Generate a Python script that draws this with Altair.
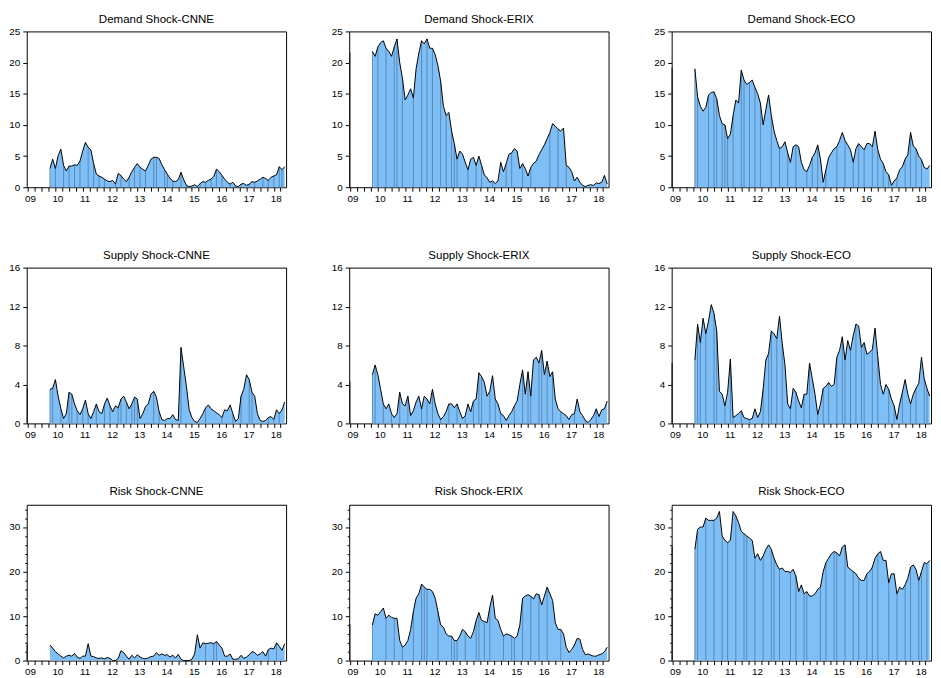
import altair as alt
import pandas as pd

# ---------------- data (grid 2009.8 .. 2018.4 step 0.1) ----------------
T0 = 2009.8
STEP = 0.1

demand_cnne = [3.0, 4.5,
    3.0, 5.1, 6.1, 3.5, 2.6, 3.4, 3.4, 3.6, 3.5, 4.2,
    5.8, 7.2, 6.4, 6.0, 3.8, 2.1, 1.8, 1.6, 1.3, 1.0,
    0.9, 1.1, 0.5, 2.2, 1.9, 1.3, 0.9, 1.6, 2.5, 3.2,
    3.8, 3.2, 2.9, 2.6, 3.5, 4.5, 4.8, 4.8, 4.6, 3.6,
    2.8, 2.1, 1.4, 1.0, 0.9, 1.2, 2.4, 1.2, 0.3, 0.1,
    0.2, 0.4, 0.1, 0.6, 0.9, 0.8, 1.1, 1.3, 1.7, 2.9,
    2.5, 1.9, 1.3, 0.8, 0.5, 0.8, 0.2, 0.1, 0.5, 0.6,
    0.3, 0.5, 0.9, 0.8, 1.0, 1.3, 1.6, 1.4, 1.1, 1.6,
    1.8, 2.0, 3.3, 2.8, 3.3]
demand_erix = [21.8, 21.0,
    22.5, 23.2, 23.5, 22.3, 21.8, 21.0, 22.5, 23.8, 20.0, 17.5,
    14.0, 14.8, 15.8, 14.3, 19.0, 21.5, 23.5, 23.0, 23.8, 22.3,
    22.3, 21.3, 19.5, 17.0, 13.0, 11.5, 12.0, 9.0, 7.0, 4.5,
    5.8, 5.3, 4.0, 2.8, 4.5, 4.8, 3.5, 5.0, 3.5, 2.0,
    1.5, 0.8, 1.0, 0.6, 1.0, 4.0, 2.5, 3.8, 5.3, 5.5,
    6.2, 5.8, 3.0, 3.8, 3.0, 1.8, 3.2, 3.8, 4.2, 5.2,
    6.0, 6.8, 7.8, 8.8, 10.2, 9.8, 9.3, 9.0, 9.5, 3.5,
    3.2, 2.5, 1.0, 1.6, 0.8, 0.3, 0.1, 0.3, 0.4, 0.3,
    0.7, 0.6, 0.8, 1.9, 0.5]
demand_eco = [19.0, 14.5,
    13.0, 12.2, 12.8, 14.8, 15.2, 15.3, 14.2, 11.5, 10.2, 10.0,
    7.8, 8.5, 11.5, 14.0, 13.5, 18.8, 17.2, 16.5, 16.8, 17.2,
    16.0, 15.0, 13.5, 10.0, 12.5, 14.8, 11.5, 9.0, 7.5, 6.2,
    6.5, 7.3, 5.5, 4.0, 6.5, 6.8, 6.5, 4.0, 2.8, 2.5,
    3.5, 4.8, 5.5, 6.8, 4.5, 0.8, 2.8, 4.8, 5.5, 6.2,
    6.5, 7.5, 8.8, 7.5, 6.8, 6.0, 4.0, 6.2, 7.0, 6.5,
    6.0, 7.0, 7.0, 6.5, 9.0, 6.0, 4.5, 3.8, 2.5, 2.0,
    0.3, 1.0, 1.5, 2.8, 3.3, 4.5, 5.2, 8.8, 6.6, 6.2,
    5.0, 4.4, 3.2, 2.9, 3.5]
supply_cnne = [3.5, 3.6,
    4.5, 2.8, 1.5, 0.5, 1.0, 3.2, 3.0, 2.0, 1.3, 0.9,
    1.5, 2.4, 1.0, 0.5, 1.2, 2.0, 1.2, 1.0, 2.0, 2.6,
    1.8, 1.2, 1.8, 1.6, 2.5, 2.8, 2.2, 1.5, 2.0, 2.7,
    2.5, 0.5, 1.0, 1.7, 2.0, 3.0, 3.3, 2.7, 1.2, 0.4,
    0.3, 0.5, 0.5, 0.9, 0.4, 0.3, 7.8, 5.8, 3.8, 1.4,
    0.6, 0.2, 0.1, 0.5, 1.0, 1.6, 1.9, 1.5, 1.3, 1.1,
    0.9, 0.6, 1.4, 1.3, 1.9, 1.0, 0.2, 0.5, 2.8, 3.5,
    5.0, 4.5, 3.2, 2.8, 1.0, 0.3, 0.2, 0.3, 0.6, 0.7,
    0.4, 1.4, 1.0, 1.4, 2.2]
supply_erix = [5.0, 6.0,
    5.0, 3.5, 2.0, 1.5, 2.0, 1.0, 0.6, 1.0, 3.2, 2.0,
    1.8, 2.8, 0.8, 1.3, 2.2, 2.8, 1.5, 2.8, 2.5, 2.0,
    3.5, 2.0, 1.0, 0.4, 0.7, 1.2, 2.0, 2.0, 1.6, 2.0,
    1.2, 0.5, 0.8, 2.0, 1.2, 2.3, 2.5, 5.2, 4.8, 4.2,
    2.8, 3.3, 4.9, 2.5, 2.0, 1.0, 0.8, 0.3, 0.8, 1.2,
    1.8, 2.3, 4.0, 5.5, 3.0, 5.3, 2.8, 6.5, 6.8, 6.2,
    7.5, 5.0, 6.4, 4.8, 5.3, 2.5, 1.5, 1.2, 1.0, 0.8,
    0.4, 0.9, 1.0, 2.5, 1.2, 0.8, 0.3, 0.1, 0.4, 0.8,
    1.5, 0.7, 1.4, 1.5, 2.3]
supply_eco = [6.5, 10.2,
    8.3, 10.8, 9.2, 10.5, 12.2, 11.3, 9.5, 3.3, 3.0, 1.8,
    3.2, 6.6, 0.6, 0.8, 1.0, 1.3, 0.6, 0.5, 0.4, 0.5,
    1.5, 0.6, 1.2, 3.5, 6.5, 7.2, 9.5, 9.2, 8.7, 11.0,
    8.2, 6.0, 2.0, 1.5, 3.6, 3.2, 2.3, 1.6, 3.0, 3.0,
    6.2, 4.6, 3.0, 0.9, 2.0, 3.6, 3.8, 4.2, 3.8, 4.0,
    6.8, 7.5, 8.9, 6.5, 8.5, 7.5, 9.0, 10.2, 10.0, 7.8,
    8.3, 7.1, 7.3, 7.6, 9.8, 6.8, 4.0, 3.0, 4.0, 3.5,
    2.5, 1.8, 0.4, 2.0, 3.2, 4.5, 3.0, 2.0, 3.0, 3.6,
    4.1, 6.8, 4.6, 3.6, 2.8]
risk_cnne = [3.5, 2.8,
    2.0, 1.5, 1.0, 0.6, 1.0, 1.2, 1.0, 1.6, 0.8, 0.5,
    1.0, 1.0, 3.8, 1.0, 0.9, 0.6, 0.5, 0.6, 0.4, 0.7,
    0.5, 0.0, 0.0, 0.5, 2.2, 1.8, 1.0, 0.3, 1.2, 0.6,
    1.3, 0.8, 0.5, 0.4, 0.6, 0.9, 1.0, 1.8, 1.2, 1.5,
    1.2, 1.3, 0.8, 1.2, 0.6, 1.4, 0.3, 0.0, 0.0, 0.0,
    0.3, 1.5, 5.8, 2.8, 4.0, 3.8, 3.9, 4.0, 3.8, 4.3,
    3.5, 2.8, 1.0, 1.0, 1.5, 0.3, 0.3, 0.4, 1.2, 0.5,
    0.8, 1.3, 2.0, 1.8, 1.2, 1.5, 2.0, 1.0, 2.5, 2.8,
    2.6, 4.0, 3.2, 2.3, 3.8]
risk_erix = [8.0, 10.5,
    10.2, 11.0, 11.8, 9.5, 10.2, 9.7, 9.5, 9.5, 4.5, 3.0,
    3.5, 4.5, 7.0, 11.0, 14.0, 15.0, 17.2, 16.5, 16.0, 16.0,
    15.5, 14.0, 11.0, 8.0, 7.5, 6.0, 5.5, 5.5, 4.5, 4.5,
    5.5, 7.0, 6.5, 5.5, 5.0, 6.5, 9.0, 10.8, 9.0, 8.8,
    8.5, 12.0, 14.7, 9.5, 9.0, 7.0, 5.5, 6.0, 5.8, 5.5,
    5.0, 5.5, 8.0, 14.0, 14.5, 14.8, 14.5, 13.8, 15.0, 14.8,
    12.5, 14.5, 16.5, 15.0, 13.5, 8.5, 7.0, 7.0, 6.0, 3.0,
    1.8, 2.5, 3.5, 5.0, 4.8, 2.5, 1.3, 1.5, 1.2, 1.0,
    1.0, 1.3, 1.5, 2.0, 3.0]
risk_eco = [25.0, 29.5,
    30.0, 30.0, 32.0, 31.5, 31.5, 31.5, 32.0, 33.5, 28.0, 27.0,
    26.5, 27.0, 33.5, 32.5, 31.0, 29.0, 28.5, 28.0, 27.5, 27.0,
    23.0, 24.0, 22.5, 23.5, 25.0, 26.0, 25.0, 23.0, 21.5, 20.5,
    20.8, 20.0, 20.0, 19.8, 20.5, 19.0, 15.5, 17.0, 15.0, 15.5,
    14.5, 14.5, 15.0, 16.0, 16.5, 20.0, 22.0, 23.0, 24.0, 24.5,
    24.2, 23.5, 25.5, 26.0, 21.0, 20.5, 20.0, 19.5, 18.5, 18.0,
    18.0, 19.5, 20.0, 21.0, 23.0, 24.0, 24.5, 22.5, 22.5, 17.5,
    19.5, 19.5, 15.0, 16.5, 16.0, 17.0, 18.5, 21.0, 21.5, 20.5,
    18.0, 20.0, 22.0, 21.8, 22.5]

# first observation drawn at the left edge of each panel
first_obs = [0.0, 21.6, 19.2, 3.7, 4.3, 6.2, 3.6, 8.2, 25.6]

# positions (years) of the darker vertical stripes inside the areas
stripes_dc = [2009.80, 2010.01, 2010.31, 2010.52, 2010.73, 2010.94, 2011.18, 2011.36, 2011.59, 2011.81,
              2012.17, 2012.39, 2012.67, 2012.91, 2013.13, 2013.35, 2013.55, 2013.73, 2013.95, 2014.11,
              2014.35, 2014.57, 2014.81, 2015.29, 2015.53, 2015.71, 2015.89, 2016.09, 2016.37, 2016.61,
              2016.85, 2017.13, 2017.33, 2017.55, 2017.81, 2017.96, 2018.15, 2018.33]
stripes_de = [2009.82, 2009.97, 2010.29, 2010.57, 2010.68, 2010.89, 2011.28, 2011.58, 2011.76, 2012.00,
              2012.30, 2012.51, 2012.66, 2012.80, 2012.90, 2013.25, 2013.57, 2013.85, 2014.15, 2014.69,
              2014.87, 2015.28, 2015.64, 2016.30, 2016.62, 2016.86]
stripes_do = [2009.80, 2009.93, 2010.27, 2010.53, 2010.63, 2010.75, 2010.91, 2011.01, 2011.22, 2011.52,
              2011.63, 2011.79, 2011.97, 2012.21, 2012.62, 2012.89, 2013.22, 2013.50, 2013.88, 2014.12,
              2014.30, 2014.60, 2014.96, 2015.32, 2015.56, 2015.80, 2016.03, 2016.27, 2016.51, 2016.69,
              2016.87, 2017.23, 2017.46, 2017.70, 2017.89, 2018.13]
stripes_sc = [2009.80, 2009.92, 2010.16, 2010.46, 2010.61, 2010.82, 2011.04, 2011.24, 2011.48, 2011.82,
              2012.02, 2012.27, 2012.39, 2012.63, 2012.75, 2012.90, 2013.05, 2013.59, 2013.83, 2014.61,
              2015.46, 2016.12, 2016.54, 2016.78, 2017.08, 2017.24, 2017.75, 2017.99, 2018.23]
stripes_se = [2009.80, 2009.90, 2010.16, 2010.46, 2010.82, 2011.12, 2011.55, 2011.79, 2012.03, 2012.33,
              2012.63, 2012.87, 2013.23, 2013.47, 2013.71, 2013.83, 2014.13, 2014.25, 2014.49, 2014.97,
              2015.27, 2015.45, 2015.63, 2015.87, 2015.99, 2016.17, 2016.41, 2016.65, 2017.19, 2017.55,
              2018.03]
stripes_so = [2009.80, 2009.92, 2010.04, 2010.22, 2010.52, 2010.64, 2010.88, 2011.12, 2011.24, 2011.54,
              2011.85, 2012.27, 2012.45, 2012.57, 2012.81, 2013.05, 2013.29, 2013.53, 2013.77, 2014.01,
              2014.25, 2014.51, 2014.73, 2014.97, 2015.21, 2015.33, 2015.51, 2015.69, 2015.87, 2016.05,
              2016.29, 2016.53, 2016.89, 2017.13, 2017.37, 2017.73, 2017.91, 2018.15, 2018.33]
stripes_rc = [2015.46, 2015.76, 2015.94, 2017.81, 2018.11]
stripes_re = [2009.81, 2010.32, 2010.56, 2010.89, 2011.25, 2011.55, 2011.73, 2011.85, 2012.21, 2012.69,
              2012.81, 2012.94, 2013.24, 2013.60, 2013.72, 2013.90, 2014.14, 2014.56, 2014.86, 2015.04,
              2015.28, 2015.64, 2015.88, 2016.24, 2016.67]
stripes_ro = [2009.80, 2009.94, 2010.24, 2010.54, 2010.78, 2011.02, 2011.26, 2011.56, 2011.74, 2011.98,
              2012.34, 2012.58, 2012.70, 2012.94, 2013.30, 2013.54, 2013.78, 2013.90, 2014.38, 2014.62,
              2014.86, 2014.98, 2015.34, 2015.58, 2015.82, 2016.06, 2016.30, 2016.54, 2016.90, 2017.20,
              2017.50, 2017.74, 2017.98, 2018.10, 2018.28]

titles = ["Demand Shock-CNNE", "Demand Shock-ERIX", "Demand Shock-ECO",
          "Supply Shock-CNNE", "Supply Shock-ERIX", "Supply Shock-ECO",
          "Risk Shock-CNNE", "Risk Shock-ERIX", "Risk Shock-ECO"]
series = [demand_cnne, demand_erix, demand_eco,
          supply_cnne, supply_erix, supply_eco,
          risk_cnne, risk_erix, risk_eco]
stripes = [stripes_dc, stripes_de, stripes_do,
           stripes_sc, stripes_se, stripes_so,
           stripes_rc, stripes_re, stripes_ro]

# y axes per row: (max, tick values, label step)
row_y = [(25, [0, 5, 10, 15, 20, 25], 5),
         (16, [0, 4, 8, 12, 16], 4),
         (35, list(range(0, 35, 2)), 10)]

x_ticks = [2009 + 0.25 * k for k in range(38)]
X_MIN, X_MAX = 2008.95, 2018.45

# ---------------- styling ----------------
FONT = "Liberation Sans"
FILL = "#7fbff7"
STRIPE = "#4f7ba6"
W, H = 263, 158
EXT_Y, EXT_X = 18, 18
TITLE_OFFSET = [1, 1, 7]   # the risk row has no label overhanging its top edge


def panel(i):
    vals = series[i]
    ymax, yvals, lstep = row_y[i // 3]
    t = [round(T0 + STEP * k, 2) for k in range(len(vals))]
    df = pd.DataFrame({"t": t, "v": vals})

    idx = sorted(set(int(round((s - T0) / STEP)) for s in stripes[i]))
    idx = [k for k in idx if 0 <= k < len(vals)]
    sdf = pd.DataFrame({"t": [t[k] for k in idx], "v": [vals[k] for k in idx]})
    fdf = pd.DataFrame({"t": [X_MIN + 0.02], "v": [first_obs[i]]})

    xs = alt.Scale(domain=[X_MIN, X_MAX], nice=False, zero=False)
    ys = alt.Scale(domain=[0, ymax], nice=False, zero=True)

    xaxis = alt.Axis(values=x_ticks,
                     labelExpr="datum.value % 1 === 0 ? substring(toString(datum.value), 2, 4) : ''",
                     tickSize=4, labelPadding=2, labelOffset=2, labelFlush=False,
                     labelOverlap=False, minExtent=EXT_X, maxExtent=EXT_X, title=None)
    if lstep == 10:
        yaxis = alt.Axis(values=yvals,
                         labelExpr="datum.value % 10 === 0 ? toString(datum.value) : ''",
                         tickSize={"condition": {"test": "datum.value % 10 === 0", "value": 4}, "value": 2},
                         labelPadding=3, labelOverlap=False,
                         minExtent=EXT_Y, maxExtent=EXT_Y, title=None)
    else:
        yaxis = alt.Axis(values=yvals, tickSize=4, labelPadding=3, labelOverlap=False,
                         minExtent=EXT_Y, maxExtent=EXT_Y, title=None)

    X = alt.X("t:Q", scale=xs, axis=xaxis, title=None)
    Y = alt.Y("v:Q", scale=ys, axis=yaxis, title=None)

    area = alt.Chart(df).mark_area(color=FILL, opacity=1).encode(x=X, y=Y)
    rules = alt.Chart(sdf).mark_rule(color=STRIPE, strokeWidth=0.8).encode(
        x=X, y=Y, y2=alt.datum(0))
    line = alt.Chart(df).mark_line(color="black", strokeWidth=1).encode(x=X, y=Y)
    first = alt.Chart(fdf).mark_rule(color="#222222", strokeWidth=1.4).encode(
        x=X, y=Y, y2=alt.datum(0))
    return alt.layer(area, rules, line, first).properties(
        width=W, height=H,
        title=alt.TitleParams(titles[i], offset=TITLE_OFFSET[i // 3]))


rows = [alt.hconcat(*[panel(r * 3 + c) for c in range(3)], spacing=43) for r in range(3)]
chart = alt.vconcat(*rows, spacing=43.5).properties(padding=0).configure_view(
    stroke="black", strokeWidth=1
).configure_axis(
    labelFont=FONT, labelFontSize=10, labelColor="black",
    tickColor="black", tickWidth=1, domain=False, grid=False,
).configure_title(
    font=FONT, fontSize=11.7, fontWeight="normal", color="black",
    anchor="middle", frame="group",
)

chart.save("out.html", embed_options={"renderer": "svg", "actions": False})
